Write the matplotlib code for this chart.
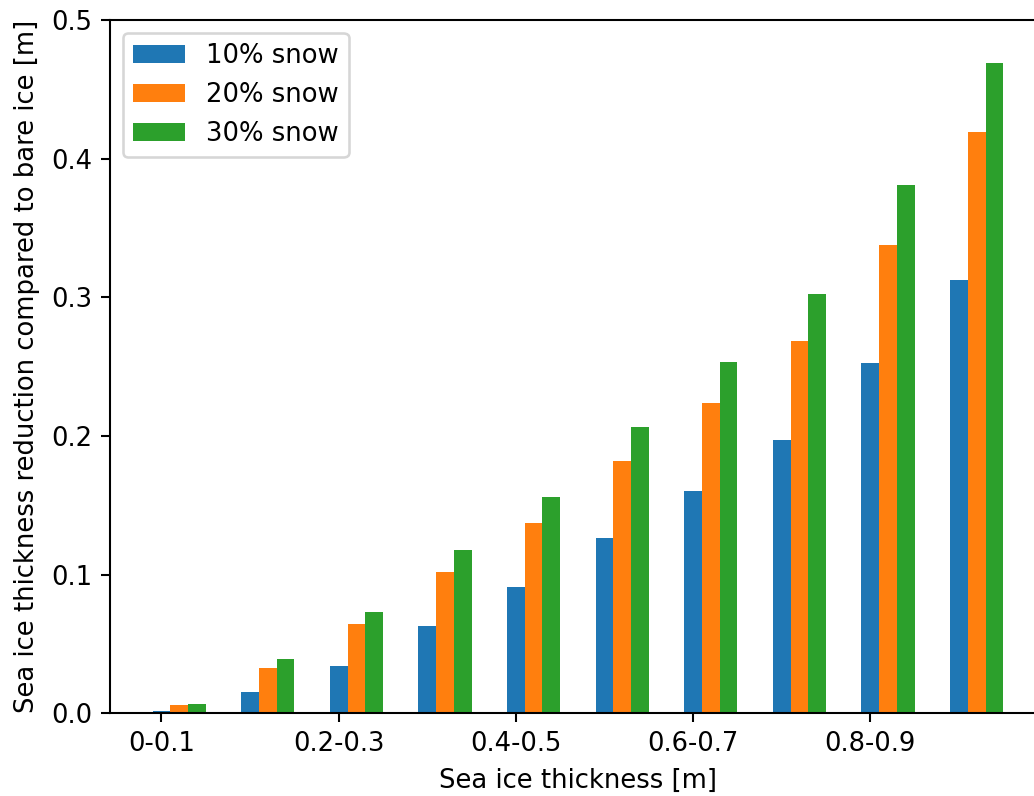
import numpy as np
import matplotlib.pyplot as plt

# thickness classes (only every second one is labelled on the axis)
classes = ['0-0.1', '0.1-0.2', '0.2-0.3', '0.3-0.4', '0.4-0.5',
           '0.5-0.6', '0.6-0.7', '0.7-0.8', '0.8-0.9', '0.9-1.0']

# reduction of sea ice thickness compared to bare ice [m]
snow10 = [0.0014, 0.0151, 0.0339, 0.0627, 0.0909, 0.1264, 0.1603, 0.1970, 0.2526, 0.3122]
snow20 = [0.0058, 0.0327, 0.0642, 0.1017, 0.1370, 0.1820, 0.2240, 0.2686, 0.3380, 0.4190]
snow30 = [0.0069, 0.0394, 0.0733, 0.1180, 0.1560, 0.2063, 0.2530, 0.3024, 0.3813, 0.4693]

labels = ['10% snow', '20% snow', '30% snow']

x = np.arange(len(classes))
w = 0.2

dpi = 186
fig = plt.figure(figsize=(1034/dpi, 796/dpi), dpi=dpi)
ax = fig.add_axes([0.1064, 0.1039, 0.905, 0.871])

ax.bar(x, snow10, w, label=labels[0])
ax.bar(x + w, snow20, w, label=labels[1])
ax.bar(x + 2*w, snow30, w, label=labels[2])

ax.set_xticks(x[::2])
ax.set_xticklabels(classes[::2])
ax.set_ylim(0, 0.5)
ax.set_xlabel('Sea ice thickness [m]')
ax.set_ylabel('Sea ice thickness reduction compared to bare ice [m]')
ax.legend(loc='upper left')

fig.savefig('out.png', dpi=dpi)
